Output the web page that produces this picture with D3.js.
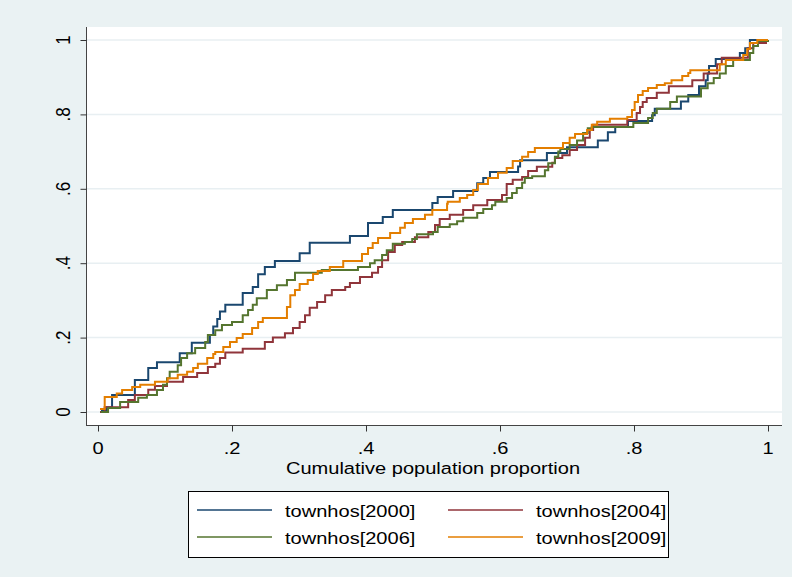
<!DOCTYPE html>
<meta charset="utf-8" />
<head>
  <style>
    body {
      margin: 0;
      background: #eaf2f3;
    }
    svg text {
      font-family: "Liberation Sans", Arial, sans-serif;
      fill: #000;
    }
  </style>
</head>
<script src="https://d3js.org/d3.v7.min.js"></script>
<body>
  <div id="chart"></div>
  <script>
    ////////////////////////////////////
    ///////////// Data /////////////////
    ////////////////////////////////////

    // cumulative population proportion (x) and cumulative share (y)
    const pop2000 = [0.004, 0.006, 0.013, 0.021, 0.055, 0.075, 0.088, 0.122, 0.14, 0.167, 0.172, 0.178, 0.182, 0.19, 0.216, 0.231, 0.239, 0.249, 0.264, 0.301, 0.316, 0.376, 0.403, 0.425, 0.44, 0.499, 0.507, 0.53, 0.566, 0.575, 0.585, 0.627, 0.63, 0.67, 0.7, 0.746, 0.761, 0.772, 0.791, 0.827, 0.831, 0.87, 0.881, 0.897, 0.907, 0.91, 0.912, 0.922, 0.958, 0.966, 0.973, 1.0];
    const town2000 = [0, 0.005, 0.013, 0.046, 0.086, 0.118, 0.134, 0.158, 0.186, 0.207, 0.23, 0.25, 0.27, 0.288, 0.32, 0.336, 0.37, 0.39, 0.406, 0.427, 0.455, 0.473, 0.508, 0.524, 0.543, 0.562, 0.578, 0.594, 0.615, 0.629, 0.645, 0.66, 0.677, 0.696, 0.712, 0.73, 0.752, 0.766, 0.782, 0.798, 0.815, 0.835, 0.852, 0.876, 0.892, 0.91, 0.93, 0.949, 0.965, 0.978, 1.0, 1.0];

    const pop2004 = [0.003, 0.01, 0.045, 0.055, 0.075, 0.085, 0.103, 0.127, 0.148, 0.164, 0.175, 0.182, 0.19, 0.216, 0.249, 0.261, 0.279, 0.291, 0.301, 0.309, 0.316, 0.327, 0.339, 0.349, 0.369, 0.376, 0.391, 0.409, 0.418, 0.424, 0.433, 0.443, 0.454, 0.473, 0.493, 0.503, 0.51, 0.525, 0.545, 0.56, 0.581, 0.603, 0.61, 0.619, 0.633, 0.642, 0.655, 0.678, 0.682, 0.693, 0.704, 0.715, 0.727, 0.734, 0.739, 0.79, 0.804, 0.809, 0.813, 0.819, 0.834, 0.852, 0.887, 0.904, 0.924, 0.931, 0.97, 0.978, 0.997, 1.0];
    const town2004 = [0, 0.013, 0.032, 0.046, 0.06, 0.07, 0.081, 0.094, 0.105, 0.121, 0.13, 0.145, 0.16, 0.17, 0.188, 0.2, 0.212, 0.226, 0.242, 0.26, 0.28, 0.296, 0.314, 0.328, 0.336, 0.347, 0.363, 0.374, 0.39, 0.408, 0.43, 0.449, 0.457, 0.47, 0.484, 0.503, 0.519, 0.53, 0.543, 0.556, 0.57, 0.583, 0.613, 0.624, 0.632, 0.648, 0.659, 0.67, 0.683, 0.69, 0.704, 0.718, 0.737, 0.758, 0.772, 0.785, 0.804, 0.82, 0.833, 0.844, 0.858, 0.876, 0.892, 0.91, 0.935, 0.952, 0.978, 0.992, 1.0, 1.0];

    const pop2006 = [0.004, 0.015, 0.033, 0.06, 0.073, 0.088, 0.097, 0.103, 0.107, 0.119, 0.124, 0.133, 0.145, 0.16, 0.164, 0.175, 0.185, 0.2, 0.216, 0.224, 0.231, 0.237, 0.252, 0.267, 0.282, 0.294, 0.334, 0.388, 0.406, 0.413, 0.424, 0.431, 0.44, 0.458, 0.469, 0.476, 0.5, 0.507, 0.525, 0.536, 0.545, 0.566, 0.575, 0.588, 0.593, 0.61, 0.618, 0.625, 0.633, 0.637, 0.648, 0.667, 0.672, 0.682, 0.687, 0.69, 0.704, 0.715, 0.724, 0.731, 0.737, 0.799, 0.821, 0.828, 0.834, 0.854, 0.864, 0.9, 0.91, 0.919, 0.928, 0.937, 0.948, 0.973, 0.978, 0.985, 1.0];
    const town2006 = [0, 0.011, 0.027, 0.038, 0.046, 0.059, 0.073, 0.091, 0.108, 0.126, 0.145, 0.158, 0.172, 0.188, 0.207, 0.22, 0.234, 0.242, 0.26, 0.274, 0.288, 0.306, 0.328, 0.341, 0.355, 0.374, 0.382, 0.39, 0.4, 0.408, 0.422, 0.435, 0.452, 0.457, 0.465, 0.478, 0.484, 0.497, 0.505, 0.513, 0.522, 0.535, 0.546, 0.556, 0.565, 0.575, 0.589, 0.602, 0.616, 0.629, 0.634, 0.65, 0.669, 0.686, 0.7, 0.707, 0.718, 0.73, 0.75, 0.763, 0.766, 0.777, 0.79, 0.804, 0.815, 0.833, 0.848, 0.87, 0.884, 0.898, 0.91, 0.93, 0.946, 0.965, 0.984, 0.997, 1.0];

    const pop2009 = [0.003, 0.01, 0.028, 0.036, 0.051, 0.063, 0.085, 0.104, 0.119, 0.133, 0.142, 0.149, 0.163, 0.172, 0.175, 0.187, 0.197, 0.207, 0.216, 0.23, 0.239, 0.246, 0.282, 0.287, 0.294, 0.301, 0.313, 0.321, 0.328, 0.346, 0.366, 0.394, 0.403, 0.41, 0.418, 0.436, 0.451, 0.458, 0.47, 0.488, 0.499, 0.521, 0.522, 0.54, 0.551, 0.56, 0.567, 0.582, 0.597, 0.61, 0.619, 0.633, 0.642, 0.652, 0.694, 0.704, 0.712, 0.73, 0.737, 0.745, 0.764, 0.79, 0.797, 0.801, 0.806, 0.813, 0.821, 0.834, 0.846, 0.856, 0.872, 0.881, 0.884, 0.928, 0.937, 0.963, 0.969, 0.973, 0.984, 1.0];
    const town2009 = [0.008, 0.04, 0.05, 0.059, 0.067, 0.073, 0.081, 0.091, 0.1, 0.108, 0.118, 0.13, 0.145, 0.156, 0.161, 0.175, 0.188, 0.199, 0.21, 0.226, 0.242, 0.253, 0.282, 0.314, 0.328, 0.344, 0.355, 0.371, 0.379, 0.39, 0.406, 0.425, 0.441, 0.454, 0.468, 0.481, 0.495, 0.508, 0.519, 0.53, 0.543, 0.56, 0.565, 0.575, 0.583, 0.597, 0.613, 0.629, 0.643, 0.656, 0.675, 0.686, 0.699, 0.71, 0.723, 0.737, 0.747, 0.758, 0.772, 0.78, 0.788, 0.793, 0.812, 0.833, 0.852, 0.863, 0.871, 0.879, 0.884, 0.892, 0.903, 0.911, 0.919, 0.935, 0.946, 0.96, 0.976, 0.992, 1.0, 1.0];

    const seriesNames = ["townhos[2000]", "townhos[2004]", "townhos[2006]", "townhos[2009]"];
    const xTicks = [0, 0.2, 0.4, 0.6, 0.8, 1];
    const yTicks = [0, 0.2, 0.4, 0.6, 0.8, 1];
    const xTitle = "Cumulative population proportion";

    // Stata s2color: navy, maroon, forest_green, dkorange
    const colors = ["#1a476f", "#90353b", "#55752f", "#e37e00"];

    const series = [
      { name: seriesNames[0], x: pop2000, y: town2000 },
      { name: seriesNames[1], x: pop2004, y: town2004 },
      { name: seriesNames[2], x: pop2006, y: town2006 },
      { name: seriesNames[3], x: pop2009, y: town2009 },
    ];

    ////////////////////////////////////
    ///////////// SVG Setup ////////////
    ////////////////////////////////////

    const svgWidth = 792;
    const svgHeight = 577;
    // plot region (white box) and data range inside it
    const plot = { left: 87, right: 782, top: 27, bottom: 425 };
    const stretch = 1.18; // the original text is wider than it is tall

    const svg = d3
      .select("#chart")
      .append("svg")
      .attr("width", svgWidth)
      .attr("height", svgHeight);

    svg.append("rect")
      .attr("width", svgWidth)
      .attr("height", svgHeight)
      .attr("fill", "#eaf2f3");

    svg.append("rect")
      .attr("x", plot.left)
      .attr("y", plot.top)
      .attr("width", plot.right - plot.left)
      .attr("height", plot.bottom - plot.top)
      .attr("fill", "#fff");

    ////////////////////////////////////
    ///////////// Scales ///////////////
    ////////////////////////////////////

    const xScale = d3.scaleLinear().domain([0, 1]).range([98, 768]);
    const yScale = d3.scaleLinear().domain([0, 1]).range([412, 40]);

    const fmt = (d) => (d === 0 ? "0" : d === 1 ? "1" : d3.format(".1f")(d).replace(/^0/, ""));

    // grid lines
    svg.append("g")
      .selectAll("line")
      .data(yTicks)
      .join("line")
      .attr("x1", plot.left)
      .attr("x2", plot.right)
      .attr("y1", (d) => yScale(d))
      .attr("y2", (d) => yScale(d))
      .attr("stroke", "#e8eff2")
      .attr("stroke-width", 1.5);

    // y axis
    const yAxis = svg.append("g")
      .attr("transform", `translate(${plot.left - 0.5},0)`)
      .call(d3.axisLeft(yScale).tickValues(yTicks).tickSize(6).tickFormat(""));
    yAxis.select(".domain").attr("d", `M0,${plot.top}V${plot.bottom}`).attr("stroke", "#444");
    yAxis.selectAll(".tick line").attr("stroke", "#333");

    svg.append("g")
      .selectAll("text")
      .data(yTicks)
      .join("text")
      .attr("transform", (d) => `translate(70,${yScale(d)}) scale(${stretch},1) rotate(-90)`)
      .attr("text-anchor", "middle")
      .attr("font-size", "17px")
      .text(fmt);

    // x axis
    const xAxis = svg.append("g")
      .attr("transform", `translate(0,${plot.bottom + 0.5})`)
      .call(d3.axisBottom(xScale).tickValues(xTicks).tickSize(6).tickFormat(""));
    xAxis.select(".domain").attr("d", `M${plot.left - 1},0H${plot.right}`).attr("stroke", "#444");
    xAxis.selectAll(".tick line").attr("stroke", "#333");

    svg.append("g")
      .selectAll("text")
      .data(xTicks)
      .join("text")
      .attr("transform", (d) => `translate(${xScale(d)},454) scale(${stretch},1)`)
      .attr("text-anchor", "middle")
      .attr("font-size", "17px")
      .text(fmt);

    svg.append("text")
      .attr("transform", `translate(${(xScale(0) + xScale(1)) / 2},474) scale(${stretch},1)`)
      .attr("text-anchor", "middle")
      .attr("font-size", "17px")
      .text(xTitle);

    ////////////////////////////////////
    ///////////// Draw lines ///////////
    ////////////////////////////////////

    const line = d3
      .line()
      .x((d) => xScale(d[0]))
      .y((d) => yScale(d[1]))
      .curve(d3.curveStepAfter);

    series.forEach((s, i) =>
      svg
        .append("path")
        .datum(s.x.map((v, j) => [v, s.y[j]]))
        .attr("fill", "none")
        .attr("stroke", colors[i])
        .attr("stroke-width", 2)
        .attr("stroke-linejoin", "miter")
        .attr("d", line)
    );

    ////////////////////////////////////
    ///////////// Legend ///////////////
    ////////////////////////////////////

    const legend = svg.append("g");
    legend.append("rect")
      .attr("x", 188.5)
      .attr("y", 491.5)
      .attr("width", 480)
      .attr("height", 66)
      .attr("fill", "#fff")
      .attr("stroke", "#000")
      .attr("stroke-width", 1);

    const cols = [197, 448];
    const rows = [510, 537];

    series.forEach((s, i) => {
      const cx = cols[i % 2];
      const cy = rows[Math.floor(i / 2)];
      legend.append("line")
        .attr("x1", cx)
        .attr("x2", cx + 75)
        .attr("y1", cy)
        .attr("y2", cy)
        .attr("stroke", colors[i])
        .attr("stroke-width", 1.5);
      legend.append("text")
        .attr("transform", `translate(${cx + 88},${cy + 7}) scale(${stretch},1)`)
        .attr("font-size", "17px")
        .text(s.name);
    });
  </script>
</body>
